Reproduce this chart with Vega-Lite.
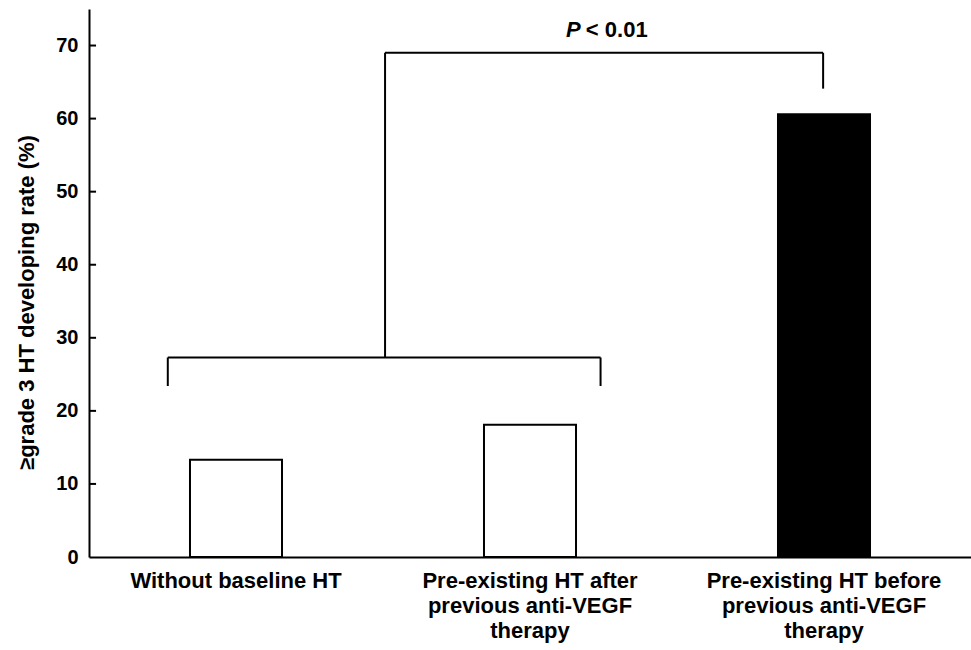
{
  "$schema": "https://vega.github.io/schema/vega-lite/v6.json",
  "width": 882,
  "height": 548,
  "autosize": {"type": "none"},
  "padding": {"left": 89, "top": 9, "right": 0, "bottom": 93},
  "background": "white",
  "config": {
    "view": {"stroke": null},
    "font": "Liberation Sans",
    "axis": {"grid": false, "domainColor": "black", "domainWidth": 2, "tickColor": "black", "tickWidth": 2, "labelColor": "black", "titleColor": "black", "labelFont": "Liberation Sans", "titleFont": "Liberation Sans", "labelFontWeight": "bold", "titleFontWeight": "bold"}
  },
  "datasets": {
    "bars": [
      {"group": "Without baseline HT", "rate": 13.3, "kind": "open"},
      {"group": "Pre-existing  HT after|previous anti-VEGF|therapy", "rate": 18.1, "kind": "open"},
      {"group": "Pre-existing HT before|previous anti-VEGF|therapy", "rate": 60.6, "kind": "filled"}
    ],
    "segments": [
      {"x1": 0.268, "y1": 23.4, "x2": 0.268, "y2": 27.3},
      {"x1": 0.268, "y1": 27.3, "x2": 1.740, "y2": 27.3},
      {"x1": 1.740, "y1": 27.3, "x2": 1.740, "y2": 23.4},
      {"x1": 1.007, "y1": 27.3, "x2": 1.007, "y2": 69.0},
      {"x1": 1.007, "y1": 69.0, "x2": 2.497, "y2": 69.0},
      {"x1": 2.497, "y1": 69.0, "x2": 2.497, "y2": 64.1}
    ],
    "ticks": [
      {"v": 10, "x1": 0, "x2": 0.024},
      {"v": 20, "x1": 0, "x2": 0.024},
      {"v": 30, "x1": 0, "x2": 0.024},
      {"v": 40, "x1": 0, "x2": 0.024},
      {"v": 50, "x1": 0, "x2": 0.024},
      {"v": 60, "x1": 0, "x2": 0.024},
      {"v": 70, "x1": 0, "x2": 0.024}
    ],
    "notes": [
      {"x": 1.672, "y": 71.2, "label": "P", "part": "p"},
      {"x": 1.690, "y": 71.2, "label": "< 0.01", "part": "rest"}
    ]
  },
  "layer": [
    {
      "data": {"name": "bars"},
      "mark": {"type": "bar", "stroke": "black", "strokeWidth": 2},
      "encoding": {
        "x": {
          "field": "group", "type": "nominal", "sort": null,
          "scale": {"paddingInner": 0.687, "paddingOuter": 0.3435},
          "axis": {"title": null, "labelAngle": 0, "ticks": false, "labelFontSize": 22, "labelLineHeight": 25, "labelPadding": 13, "labelExpr": "split(datum.label, '|')", "labelLimit": 400}
        },
        "y": {
          "field": "rate", "type": "quantitative",
          "scale": {"domain": [0, 75], "nice": false},
          "axis": {"title": "≥grade 3 HT developing rate (%)", "values": [0, 10, 20, 30, 40, 50, 60, 70], "ticks": false, "labelFontSize": 20, "labelPadding": 11, "titleFontSize": 22, "titlePadding": 17, "titleY": 293}
        },
        "fill": {"field": "kind", "type": "nominal", "scale": {"domain": ["open", "filled"], "range": ["white", "black"]}, "legend": null}
      }
    },
    {
      "data": {"name": "ticks"},
      "mark": {"type": "rule", "color": "black", "strokeWidth": 2},
      "encoding": {
        "x": {"field": "x1", "type": "quantitative", "scale": {"domain": [0, 3], "nice": false, "zero": false}, "axis": null},
        "x2": {"field": "x2"},
        "y": {"field": "v", "type": "quantitative"}
      }
    },
    {
      "data": {"name": "segments"},
      "mark": {"type": "rule", "color": "black", "strokeWidth": 2},
      "encoding": {
        "x": {"field": "x1", "type": "quantitative", "scale": {"domain": [0, 3], "nice": false, "zero": false}, "axis": null},
        "x2": {"field": "x2"},
        "y": {"field": "y1", "type": "quantitative"},
        "y2": {"field": "y2"}
      }
    },
    {
      "data": {"name": "notes"},
      "transform": [{"filter": "datum.part == 'p'"}],
      "mark": {"type": "text", "align": "right", "baseline": "alphabetic", "fontSize": 22, "fontWeight": "bold", "fontStyle": "italic", "color": "black"},
      "encoding": {
        "x": {"field": "x", "type": "quantitative", "scale": {"domain": [0, 3], "nice": false, "zero": false}, "axis": null},
        "y": {"field": "y", "type": "quantitative"},
        "text": {"field": "label"}
      }
    },
    {
      "data": {"name": "notes"},
      "transform": [{"filter": "datum.part == 'rest'"}],
      "mark": {"type": "text", "align": "left", "baseline": "alphabetic", "fontSize": 22, "fontWeight": "bold", "color": "black"},
      "encoding": {
        "x": {"field": "x", "type": "quantitative", "scale": {"domain": [0, 3], "nice": false, "zero": false}, "axis": null},
        "y": {"field": "y", "type": "quantitative"},
        "text": {"field": "label"}
      }
    }
  ],
  "resolve": {"scale": {"x": "independent"}}
}
